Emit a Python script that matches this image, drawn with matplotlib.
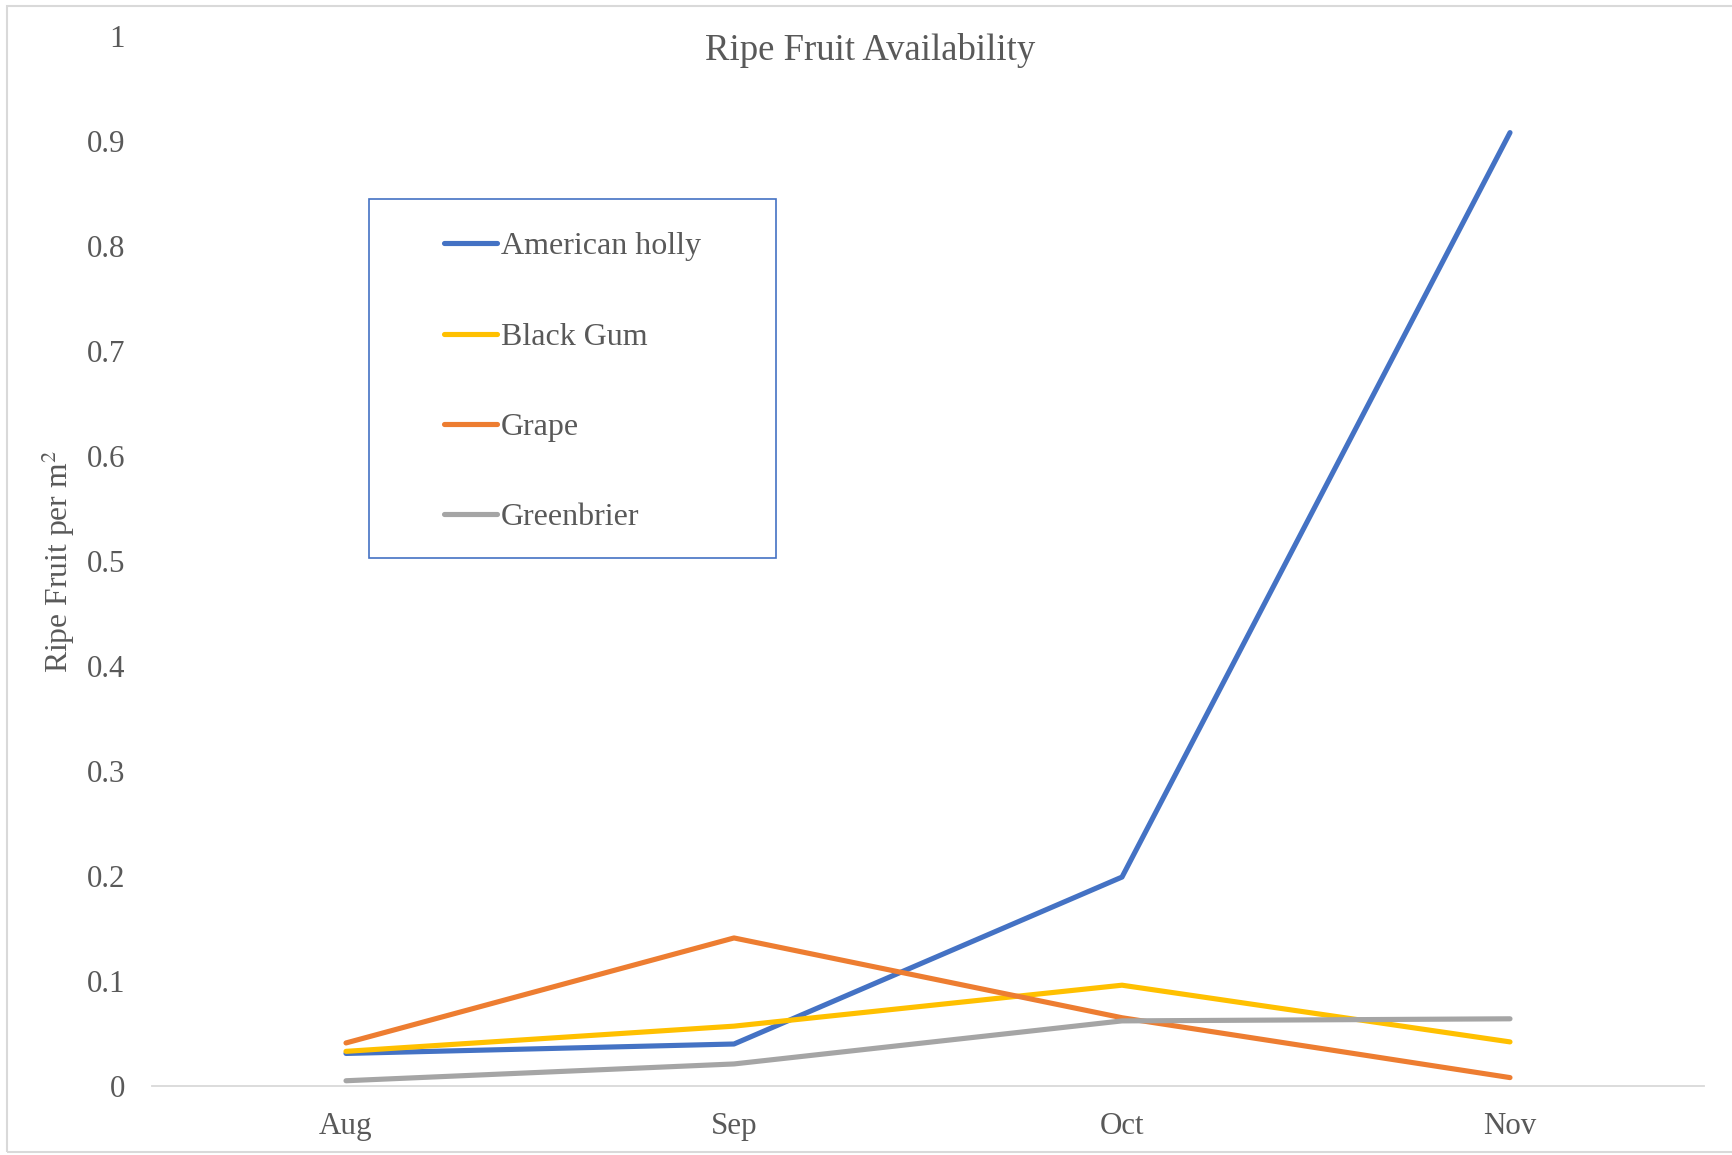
import matplotlib.pyplot as plt
from matplotlib.patches import Rectangle

plt.rcParams['font.family'] = ['Liberation Serif', 'DejaVu Serif']
plt.rcParams['mathtext.fontset'] = 'stix'

months = ['Aug', 'Sep', 'Oct', 'Nov']
american_holly = [0.031, 0.040, 0.199, 0.908]
black_gum = [0.033, 0.057, 0.096, 0.042]
grape = [0.041, 0.141, 0.065, 0.008]
greenbrier = [0.005, 0.021, 0.062, 0.064]

series = [
    ('American holly', american_holly, '#4472C4'),
    ('Black Gum', black_gum, '#FFC000'),
    ('Grape', grape, '#ED7D31'),
    ('Greenbrier', greenbrier, '#A5A5A5'),
]

text_color = '#595959'
W, H = 1732, 1155

fig = plt.figure(figsize=(W / 100, H / 100), dpi=100)
ax = fig.add_axes([152 / W, 1 - 1086 / H, (1704 - 152) / W, (1086 - 36) / H])

x = range(len(months))
for name, vals, color in series:
    ax.plot(x, vals, color=color, lw=3.7, label=name,
            solid_capstyle='round', solid_joinstyle='round')

ax.set_xlim(-0.5, len(months) - 0.5)
ax.set_ylim(0, 1)
ax.set_xticks(list(x))
ax.set_xticklabels(months)
ax.set_yticks([i / 10 for i in range(11)])
ax.set_yticklabels(['0'] + ['0.%d' % i for i in range(1, 10)] + ['1'])
ax.tick_params(axis='both', length=0, labelsize=22.3, labelcolor=text_color)
ax.tick_params(axis='y', pad=19.5)
ax.tick_params(axis='x', pad=18.5)

for side in ['top', 'right', 'left']:
    ax.spines[side].set_visible(False)
ax.spines['bottom'].set_color('#D9D9D9')
ax.spines['bottom'].set_linewidth(1.3)

fig.text(870 / W, 1 - 50 / H, 'Ripe Fruit Availability', fontsize=26.5,
         color=text_color, ha='center', va='center')
fig.text(58.5 / W, 1 - 562 / H, 'Ripe Fruit per m$^2$', fontsize=22.8,
         color=text_color, ha='center', va='center', rotation=90)

# legend without frame, box drawn separately
leg = ax.legend(loc='upper left', frameon=False, fontsize=23,
                handlelength=1.66, handletextpad=0.12, labelspacing=1.91,
                bbox_to_anchor=(444 / W, 1 - 232 / H), bbox_transform=fig.transFigure,
                borderaxespad=0, borderpad=0)
for t in leg.get_texts():
    t.set_color(text_color)
for h in leg.legend_handles:
    h.set_linewidth(3.7)
    h.set_solid_capstyle('round')

fig.patches.append(Rectangle((369 / W, 1 - 558 / H), (776 - 369) / W, (558 - 199) / H,
                             transform=fig.transFigure, fill=False,
                             edgecolor='#4472C4', lw=1.2))
# outer chart border
fig.patches.append(Rectangle((7 / W, 1 - 1152 / H), 1.0, (1152 - 6) / H,
                             transform=fig.transFigure, fill=False,
                             edgecolor='#D9D9D9', lw=1.5))

fig.savefig('out.png', dpi=100)
